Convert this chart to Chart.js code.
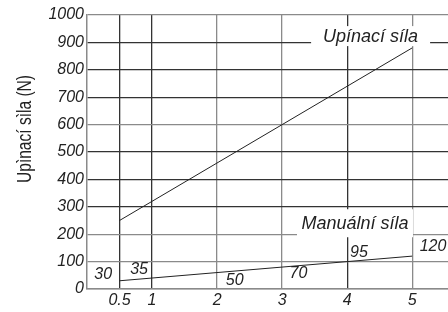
<!DOCTYPE html>
<html>
<head>
<meta charset="utf-8">
<script src="https://cdn.jsdelivr.net/npm/chart.js@4/dist/chart.umd.min.js"></script>
<style>
  html, body { margin: 0; padding: 0; background: #fff; }
  #wrap { width: 448px; height: 312px; }
</style>
</head>
<body>
<div id="wrap"><canvas id="chart" width="448" height="312"></canvas></div>
<script>
// --- data ------------------------------------------------------------------
const xTicks = [0.5, 1, 2, 3, 4, 5];
const yTicks = [0, 100, 200, 300, 400, 500, 600, 700, 800, 900, 1000];
const forceX = [0.5, 5];
const clampingForce = [250, 880];   // Upínací síla
const manualForce = [30, 120];      // Manuální síla
const manualValues = [30, 35, 50, 70, 95, 120];

// where the small value labels sit (data units), as in the drawing
const LABEL_POS = [[0.25, 52], [0.8, 70], [2.27, 32], [3.25, 58], [4.18, 133], [5.32, 155]];

const FONT = '"Liberation Sans", Arial, sans-serif';
const DARK = { x: [0.5, 1, 4], y: [300, 400, 500, 700, 800, 900] };
const gridColor = (axis) => (c) => (DARK[axis].includes(c.tick && c.tick.value) ? '#333' : '#8a8a8a');

// y title (sits above centre in the original and is condensed, so drawn by hand)
const yTitle = {
  id: 'yTitle',
  afterDraw(chart) {
    const { ctx } = chart;
    ctx.save();
    ctx.translate(31, 129);
    ctx.rotate(-Math.PI / 2);
    ctx.scale(0.74, 1);
    ctx.font = '21px ' + FONT;
    ctx.fillStyle = '#222';
    ctx.textAlign = 'center';
    ctx.textBaseline = 'alphabetic';
    ctx.fillText('Upìnací sìla (N)', 0, 0);
    ctx.restore();
  },
};

// text boxes on white that cut the grid
const boxLabels = {
  id: 'boxLabels',
  afterDatasetsDraw(chart) {
    const { ctx, scales: { x, y } } = chart;
    ctx.save();
    const boxes = [
      { text: 'Upínací síla', cx: 4.36, cy: 923, w: 119, h: 20 },
      { text: 'Manuální síla', cx: 4.12, cy: 240, w: 116, h: 28 },
    ];
    ctx.font = 'italic 18px ' + FONT;
    ctx.textAlign = 'center';
    ctx.textBaseline = 'middle';
    boxes.forEach((b) => {
      const px = x.getPixelForValue(b.cx), py = y.getPixelForValue(b.cy);
      ctx.fillStyle = '#fff';
      ctx.fillRect(px - b.w / 2, py - b.h / 2, b.w, b.h);
      ctx.fillStyle = '#222';
      ctx.fillText(b.text, px, py + 1);
    });
    ctx.font = 'italic 16px ' + FONT;
    manualValues.forEach((v, i) => {
      const [lx, ly] = LABEL_POS[i];
      ctx.fillText(String(v), x.getPixelForValue(lx), y.getPixelForValue(ly));
    });
    ctx.restore();
  },
};

new Chart(document.getElementById('chart'), {
  type: 'line',
  data: {
    datasets: [
      { label: 'Upínací síla', data: forceX.map((v, i) => ({ x: v, y: clampingForce[i] })) },
      { label: 'Manuální síla', data: forceX.map((v, i) => ({ x: v, y: manualForce[i] })) },
    ],
  },
  options: {
    responsive: false, animation: false, devicePixelRatio: 1,
    layout: { padding: { top: 15, right: 0, left: 0, bottom: 0 } },
    elements: { line: { borderColor: '#222', borderWidth: 1, tension: 0 }, point: { radius: 0 } },
    plugins: { legend: { display: false }, tooltip: { enabled: false } },
    scales: {
      x: {
        type: 'linear', min: 0, max: 5.55,
        afterBuildTicks: (s) => { s.ticks = xTicks.map((v) => ({ value: v })); },
        afterFit: (s) => { s.height = 23; },
        grid: { color: gridColor('x'), lineWidth: 1.3, drawTicks: false },
        border: { color: '#8a8a8a', width: 1.5 },
        ticks: { color: '#222', font: { family: FONT, size: 16, style: 'italic' }, padding: 2, maxRotation: 0, autoSkip: false,
          callback: (v) => String(v) },
      },
      y: {
        min: 0, max: 1000,
        afterBuildTicks: (s) => { s.ticks = yTicks.map((v) => ({ value: v })); },
        afterFit: (s) => { s.width = 87; },
        grid: { color: gridColor('y'), lineWidth: 1.3, drawTicks: false },
        border: { color: '#8a8a8a', width: 1.5 },
        ticks: { color: '#222', font: { family: FONT, size: 16, style: 'italic' }, padding: 3,
          callback: (v) => String(v) },
      },
    },
  },
  plugins: [boxLabels, yTitle],
});
</script>
</body>
</html>
